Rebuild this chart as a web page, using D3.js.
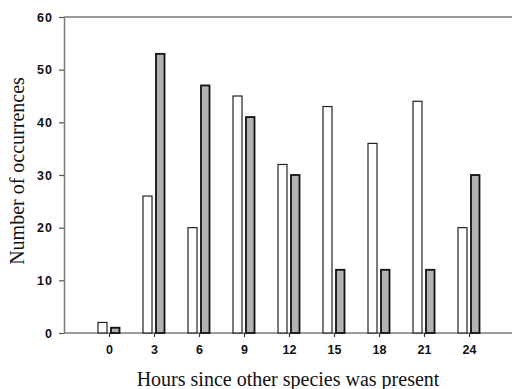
<!DOCTYPE html>
<html>
<head>
<meta charset="utf-8">
<script src="https://cdn.jsdelivr.net/npm/d3@7"></script>
<style>
  body { margin: 0; background: #fff; }
  svg { display: block; }
</style>
</head>
<body>
<div id="chart"></div>
<script>
// hours since the other species was present
var hours = [0, 3, 6, 9, 12, 15, 18, 21, 24];
var whiteVals = [2, 26, 20, 45, 32, 43, 36, 44, 20];
var grayVals = [1, 53, 47, 41, 30, 12, 12, 12, 30];
var yTicks = [0, 10, 20, 30, 40, 50, 60];

var w = 512
  , h = 389
  , padLeft = 64
  , padRight = 514
  , padTop = 17
  , padBottom = 333
  ;

var svg = d3.select('#chart').append('svg')
            .attr('width', w).attr('height', h);

var x = d3.scaleLinear().domain([-3, 27]).range([padLeft, padRight]);
var y = d3.scaleLinear().domain([0, 60]).range([padBottom, padTop]);

// frame: top line, bottom axis
svg.append('line')
  .attr('x1', padLeft).attr('x2', w).attr('y1', y(60)).attr('y2', y(60))
  .attr('stroke', '#7a7a7a').attr('stroke-width', 1.5);

svg.append('line')
  .attr('x1', padLeft).attr('x2', w).attr('y1', y(0)).attr('y2', y(0))
  .attr('stroke', '#7a7a7a').attr('stroke-width', 1.5);

var yAxis = svg.append('g')
  .attr('transform', 'translate(' + padLeft + ',0)')
  .call(d3.axisLeft(y).tickValues(yTicks).tickSize(5).tickSizeOuter(0).tickPadding(6));

yAxis.select('.domain').attr('stroke', '#7a7a7a').attr('stroke-width', 1.5);
yAxis.selectAll('.tick line').attr('stroke', '#555').attr('stroke-width', 1.2);
yAxis.selectAll('text')
  .attr('font-family', 'Liberation Sans, Arial, sans-serif')
  .attr('font-size', 12.5).attr('font-weight', 'bold').attr('fill', '#111')
  .attr('letter-spacing', 1);

var xAxis = svg.append('g')
  .attr('transform', 'translate(0,' + padBottom + ')')
  .call(d3.axisBottom(x).tickValues(hours).tickSize(4).tickPadding(8));

xAxis.select('.domain').remove();
xAxis.selectAll('.tick line').attr('stroke', '#333').attr('stroke-width', 1.2);
xAxis.selectAll('text')
  .attr('font-family', 'Liberation Sans, Arial, sans-serif')
  .attr('font-size', 12.5).attr('font-weight', 'bold').attr('fill', '#111');

// white bars
svg.selectAll('rect.white').data(whiteVals)
  .enter().append('rect')
  .attr('class', 'white')
  .attr('x', function (d, i) { return x(hours[i]) - 11; })
  .attr('width', 9)
  .attr('y', function (d) { return y(d); })
  .attr('height', function (d) { return y(0) - y(d); })
  .attr('fill', '#fff')
  .attr('stroke', '#222').attr('stroke-width', 1.2);

// gray bars
svg.selectAll('rect.gray').data(grayVals)
  .enter().append('rect')
  .attr('class', 'gray')
  .attr('x', function (d, i) { return x(hours[i]) + 2; })
  .attr('width', 8.5)
  .attr('y', function (d) { return y(d); })
  .attr('height', function (d) { return y(0) - y(d); })
  .attr('fill', '#b3b3b3')
  .attr('stroke', '#111').attr('stroke-width', 1.8);

// axis titles
svg.append('text')
  .attr('x', 288).attr('y', 386)
  .attr('text-anchor', 'middle')
  .attr('font-family', 'Liberation Serif, Times New Roman, serif')
  .attr('font-size', 20).attr('fill', '#111')
  .text('Hours since other species was present');

svg.append('text')
  .attr('transform', 'translate(24,171) rotate(-90)')
  .attr('text-anchor', 'middle')
  .attr('font-family', 'Liberation Serif, Times New Roman, serif')
  .attr('font-size', 20).attr('fill', '#111')
  .text('Number of occurrences');
</script>
</body>
</html>
